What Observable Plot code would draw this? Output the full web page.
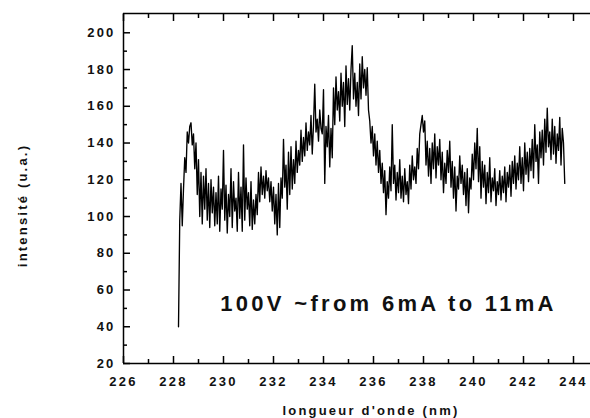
<!DOCTYPE html>
<html>
<head>
<meta charset="utf-8">
<script src="https://cdn.jsdelivr.net/npm/d3@7"></script>
<script src="https://cdn.jsdelivr.net/npm/@observablehq/plot@0.6"></script>
<style>
  html, body { margin: 0; padding: 0; background: #fff; }
  svg text { letter-spacing: 2.2px; }
</style>
</head>
<body>
<div id="chart"></div>
<script>
// Spectrum: wavelength grid start/step (nm) and read-off intensities (u.a.)
const waveStart = 228.20;
const waveStep = 0.05;
const intensity = [
  40, 98, 118, 95, 115, 132, 124, 146, 140, 149,
  151, 139, 145, 126, 140, 112, 131, 100, 124, 96,
  122, 104, 126, 98, 118, 94, 120, 102, 116, 95,
  113, 96, 122, 92, 115, 104, 136, 98, 117, 91,
  112, 100, 126, 94, 119, 103, 110, 92, 124, 99,
  116, 92, 139, 98, 121, 104, 113, 95, 119, 93,
  109, 96, 112, 101, 124, 108, 127, 112, 122, 110,
  125, 114, 121, 108, 119, 103, 116, 96, 112, 90,
  118, 94, 121, 110, 142, 116, 128, 104, 135, 112,
  138, 115, 131, 118, 141, 124, 136, 128, 147, 130,
  143, 133, 151, 136, 146, 139, 155, 134, 150, 172,
  146, 153, 141, 158, 148, 145, 169, 118, 149, 138,
  155, 127, 148, 132, 170, 150, 176, 158, 168, 152,
  178, 160, 173, 149, 182, 161, 175, 158, 180, 193,
  164, 178, 160, 173, 155, 183, 164, 187, 170, 180,
  166, 181, 158, 152, 140, 149, 133, 145, 128, 141,
  124, 136, 118, 129, 113, 125, 101, 119, 110, 127,
  114, 150, 118, 128, 109, 124, 113, 131, 110, 122,
  108, 126, 112, 119, 107, 128, 115, 133, 120, 127,
  118, 137, 126, 145, 150, 155, 146, 152, 128, 141,
  122, 137, 118, 140, 126, 145, 121, 138, 128, 142,
  120, 135, 113, 129, 118, 136, 124, 141, 116, 130,
  110, 127, 103, 122, 115, 133, 118, 128, 112, 124,
  106, 126, 102, 121, 115, 134, 120, 140, 126, 148,
  119, 138, 110, 130, 116, 128, 107, 124, 113, 132,
  108, 121, 114, 126, 106, 119, 112, 125, 109, 122,
  113, 127, 108, 124, 116, 128, 111, 130, 118, 133,
  115, 129, 120, 138, 118, 132, 114, 140, 123, 135,
  119, 137, 125, 142, 121, 150, 130, 139, 118, 146,
  132, 147, 128, 153, 135, 159, 138, 146, 131, 153,
  134, 149, 129, 145, 136, 154, 128, 148, 140, 118
];

const xMajorTicks = [226, 228, 230, 232, 234, 236, 238, 240, 242, 244];
const xMinorTicks = [227, 229, 231, 233, 235, 237, 239, 241, 243];
const yMajorTicks = [20, 40, 60, 80, 100, 120, 140, 160, 180, 200];
const yMinorTicks = [30, 50, 70, 90, 110, 130, 150, 170, 190];

const xLabel = "longueur d'onde (nm)";
const yLabel = "intensité (u.a.)";
const annotation = "100V ~from 6mA to 11mA";

const xDomain = [226, 244.68];
const yDomain = [20, 210.5];

const data = intensity.map((v, i) => ({w: +(waveStart + i * waveStep).toFixed(3), v}));
const noLabel = () => "";
const tickStyle = {stroke: "#000", strokeWidth: 1.5, label: null, tickFormat: noLabel};

const plot = Plot.plot({
  width: 590,
  height: 418,
  marginLeft: 123,
  marginRight: 0,
  marginTop: 13,
  marginBottom: 55,
  style: {fontFamily: "'Liberation Sans', Arial, sans-serif", fontSize: "13px", fontWeight: "bold", color: "#111", background: "#fff"},
  x: {domain: xDomain},
  y: {domain: yDomain},
  marks: [
    Plot.line(data, {x: "w", y: "v", stroke: "#000", strokeWidth: 1.35}),
    // frame lines
    Plot.ruleY([yDomain[0]], {stroke: "#000", strokeWidth: 1.5}),
    Plot.ruleY([yDomain[1]], {stroke: "#000", strokeWidth: 1.5}),
    Plot.ruleX([xDomain[0]], {stroke: "#000", strokeWidth: 1.5}),
    // inward ticks (negative tickSize)
    Plot.axisX(xMajorTicks, {anchor: "bottom", tickSize: -7, ...tickStyle}),
    Plot.axisX(xMinorTicks, {anchor: "bottom", tickSize: -4, ...tickStyle}),
    Plot.axisX(xMajorTicks, {anchor: "top", tickSize: -7, ...tickStyle}),
    Plot.axisX(xMinorTicks, {anchor: "top", tickSize: -4, ...tickStyle}),
    Plot.axisY(yMajorTicks, {anchor: "left", tickSize: -7, ...tickStyle}),
    Plot.axisY(yMinorTicks, {anchor: "left", tickSize: -4, ...tickStyle}),
    // tick labels
    Plot.axisX(xMajorTicks, {anchor: "bottom", tickSize: 0, tickPadding: 13.5, label: null, fill: "#111"}),
    Plot.axisY(yMajorTicks, {anchor: "left", tickSize: 0, tickPadding: 8, label: null, fill: "#111"}),
    // axis titles
    Plot.text([xLabel], {frameAnchor: "bottom", text: d => d, textAnchor: "middle", dx: 14, dy: 51, fill: "#111"}),
    Plot.text([yLabel], {frameAnchor: "left", text: d => d, textAnchor: "middle", lineAnchor: "middle", rotate: -90, dx: -101, dy: 17, fill: "#111"}),
    // annotation
    Plot.text([annotation], {x: 236.6, y: 52.5, text: d => d, fontSize: 22, fill: "#111"})
  ]
});

document.getElementById("chart").appendChild(plot);
d3.select(plot).selectAll("text").filter(function() { return this.textContent === annotation; })
  .style("letter-spacing", "3.3px");
</script>
</body>
</html>
